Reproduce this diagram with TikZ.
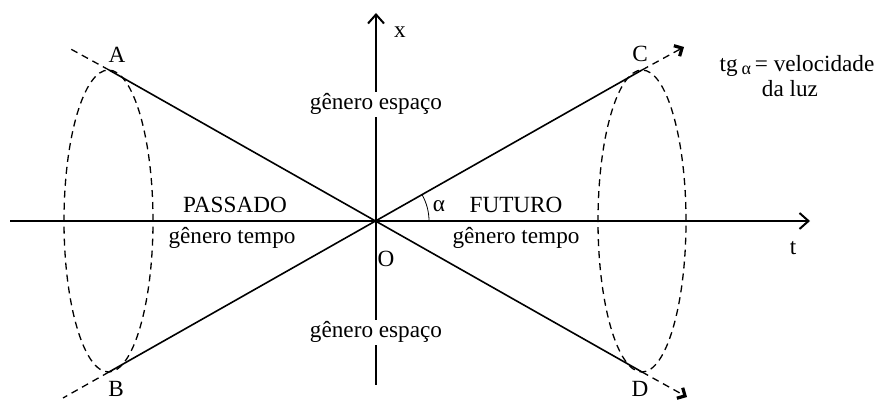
\documentclass[tikz,border=0pt]{standalone}
\usepackage{fontspec}
\setmainfont{Liberation Serif}
\usepackage{amsmath,amssymb}
\usetikzlibrary{arrows.meta}

\tikzset{
  eixo/.style={line width=1pt, -{Straight Barb[length=4.5pt,width=8pt]}},
  cone/.style={line width=0.8pt},
  tracejado/.style={line width=0.65pt, dash pattern=on 3.5pt off 2.5pt},
  rotulo/.style={font=\fontsize{11.6}{12.5}\selectfont, inner sep=0pt, anchor=base},
}

\begin{document}
\begin{tikzpicture}[x=0.5pt, y=0.5pt]
      \useasboundingbox (0,0) rectangle (876,400);
      % pontos do cone
      \coordinate (O) at (376,179);
      \coordinate (A) at (109,330);
      \coordinate (B) at (109,28);
      \coordinate (C) at (642,330);
      \coordinate (D) at (642,28);
      \coordinate (A1) at (67,353);
      \coordinate (B1) at (63,2);
      \coordinate (C1) at (684,353);
      \coordinate (D1) at (687,3);
      \coordinate (t0) at (10,179);
      \coordinate (t1) at (810,179);
      \coordinate (x0) at (376,15);
      \coordinate (x1) at (376,387);
      % eixos
      \draw[eixo] (t0)--(t1);
      \draw[eixo] (x0)--(x1);
      % cones de luz
      \draw[tracejado] (108.5,179) ellipse[x radius=22.25pt, y radius=75.5pt];
      \draw[tracejado] (642,179) ellipse[x radius=22pt, y radius=75.5pt];
      \draw[cone] (A)--(D);
      \draw[cone] (B)--(C);
      \draw[tracejado] (A)--(A1);
      \draw[tracejado] (B)--(B1);
      \foreach \p in {C, D}{
      \draw[tracejado, -{Straight Barb[length=3pt,width=6pt,line width=1.6pt]}] (\p)--(\p1);
      }
      \draw[line width=0.4pt] ([shift={(0:26.5pt)}]O) arc[start angle=0, end angle=29.5, radius=26.5pt];
      % rotulos
      \foreach \n/\x/\y/\t in {lA/117/337/A, lB/116/3/B, lC/640/338/C, lD/640/3/D,
          lx/400/362/x, lt/793/145/t, lO/386/133/O, lal/439/188/α,
          passado/235/187/PASSADO, futuro/516/187/FUTURO,
          tempoP/232/156/gênero tempo, tempoF/516/156/gênero tempo}{
      \node[rotulo] (\n) at (\x,\y) {\t};
      }
      \node[rotulo, fill=white, inner sep=1pt] (espacoS) at (376,290) {gênero espaço};
      \node[rotulo, fill=white, inner sep=1pt] (espacoI) at (376,62) {gênero espaço};
      \node[rotulo] (tg) at (797,328) {tg\,{\fontsize{9}{9}\selectfont\raisebox{-1.5pt}{α}}\,= velocidade};
      \node[rotulo] (luz) at (790,303) {da luz};
  \end{tikzpicture}
\end{document}
